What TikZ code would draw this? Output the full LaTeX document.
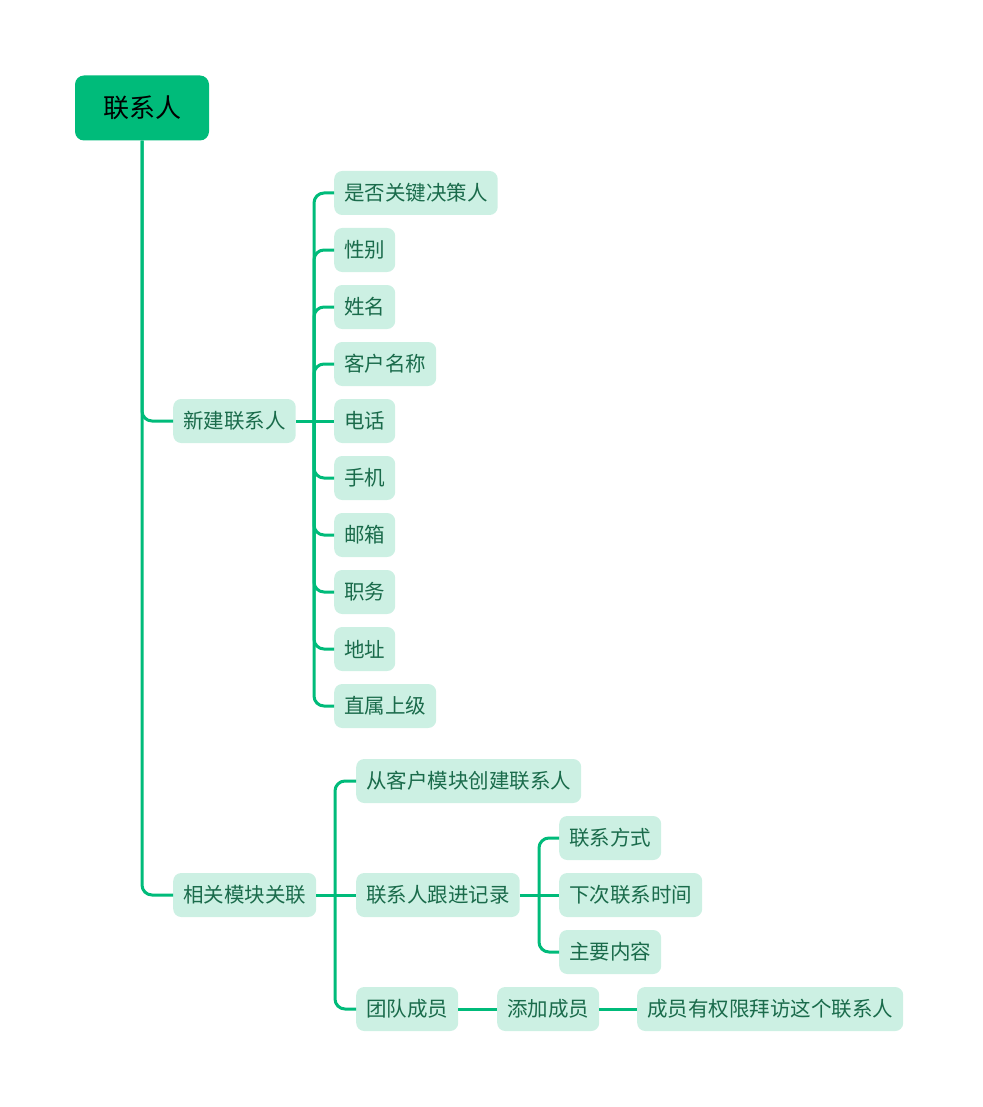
\documentclass[tikz,border=0pt]{standalone}
\usepackage{fontspec}
\setmainfont{Noto Sans CJK SC}
\definecolor{linec}{HTML}{00BB7A}
\definecolor{leaffill}{HTML}{CCF0E3}
\definecolor{leaftext}{HTML}{1A6B4B}
\begin{document}
\begin{tikzpicture}[x=1pt,y=-1pt,
  leaf/.style={fill=leaffill, text=leaftext, rounded corners=8pt, inner xsep=10pt, inner ysep=0pt,
    minimum height=44pt, anchor=west, font=\fontsize{20.5}{24}\selectfont},
  link/.style={draw=linec, line width=3pt, rounded corners=10pt}]
\useasboundingbox (0,0) rectangle (982,1107);
% root
\node[fill=linec, rounded corners=9pt, minimum width=134pt, minimum height=65pt, inner sep=0pt,
  font=\fontsize{26}{30}\selectfont, text=black] (root) at (142,108) {联系人};
% level 1
\node[leaf] (n1) at (173,421) {新建联系人};
\node[leaf] (n2) at (173,895) {相关模块关联};
% children of n1
\node[leaf] (c1) at (334,193) {是否关键决策人};
\node[leaf] (c2) at (334,250) {性别};
\node[leaf] (c3) at (334,307) {姓名};
\node[leaf] (c4) at (334,364) {客户名称};
\node[leaf] (c5) at (334,421) {电话};
\node[leaf] (c6) at (334,478) {手机};
\node[leaf] (c7) at (334,535) {邮箱};
\node[leaf] (c8) at (334,592) {职务};
\node[leaf] (c9) at (334,649) {地址};
\node[leaf] (c10) at (334,706) {直属上级};
% children of n2
\node[leaf] (d1) at (356,781) {从客户模块创建联系人};
\node[leaf] (d2) at (356,895) {联系人跟进记录};
\node[leaf] (d3) at (356,1009) {团队成员};
% children of d2
\node[leaf] (e1) at (559,838) {联系方式};
\node[leaf] (e2) at (559,895) {下次联系时间};
\node[leaf] (e3) at (559,952) {主要内容};
% chain of d3
\node[leaf] (f1) at (497,1009) {添加成员};
\node[leaf] (g1) at (637,1009) {成员有权限拜访这个联系人};
% junctions
\coordinate (j1) at (314,421);
\coordinate (j2) at (335,895);
\coordinate (j3) at (539,895);
% connectors
\draw[link] (root.south) |- (n1.west);
\draw[link] (root.south) |- (n2.west);
\foreach \c in {c1,c2,c3,c4,c6,c7,c8,c9,c10}{
  \draw[link] (j1) |- (\c.west);
}
\draw[link] (n1.east) -- (c5.west);
\draw[link] (j2) |- (d1.west);
\draw[link] (j2) |- (d3.west);
\draw[link] (n2.east) -- (d2.west);
\draw[link] (j3) |- (e1.west);
\draw[link] (j3) |- (e3.west);
\draw[link] (d2.east) -- (e2.west);
\draw[link] (d3.east) -- (f1.west);
\draw[link] (f1.east) -- (g1.west);
\end{tikzpicture}
\end{document}
